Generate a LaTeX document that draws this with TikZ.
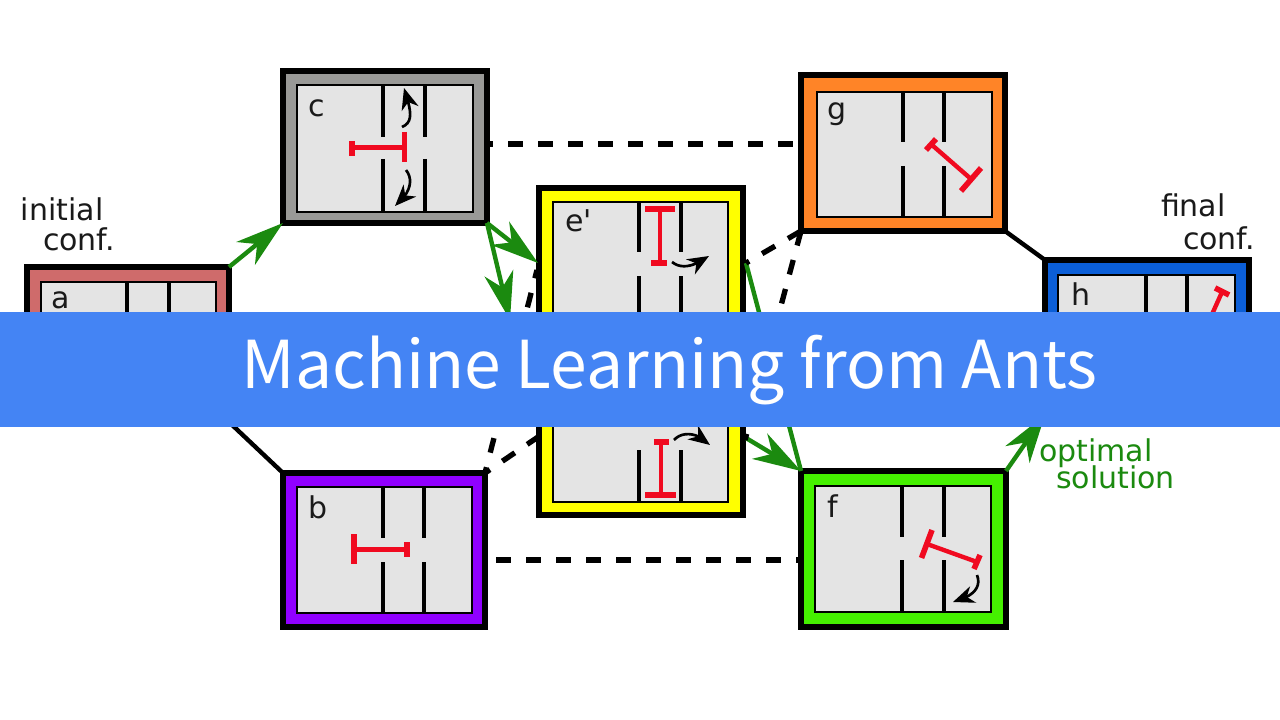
\documentclass[tikz,border=0pt]{standalone}
\usepackage{fontspec}
\newfontfamily\labfont{DejaVu Sans}
\newfontfamily\bannerfont{Noto Sans CJK SC}
\usetikzlibrary{arrows.meta,bending}
\definecolor{inbox}{HTML}{E4E4E4}
\definecolor{redbar}{HTML}{F00A20}
\definecolor{ggreen}{HTML}{1B8A0F}
\definecolor{banner}{HTML}{4484F4}
\definecolor{cgray}{HTML}{999997}
\definecolor{cred}{HTML}{CF6B6B}
\definecolor{cyellow}{HTML}{FFFF00}
\definecolor{corange}{HTML}{FF8427}
\definecolor{cblue}{HTML}{0B5ED7}
\definecolor{cpurple}{HTML}{9000FF}
\definecolor{cgreen}{HTML}{45F000}
\definecolor{labelink}{HTML}{1A1A1A}
\tikzset{
  x=0.75pt,y=-0.75pt,
  outerbox/.style={draw=black,line width=4.3pt,rectangle,inner sep=0pt,outer sep=0pt},
  innerbox/.style={draw=black,line width=2.2pt,fill=inbox,rectangle,inner sep=0pt,outer sep=0pt},
  wallline/.style={draw=black,line width=2.6pt},
  tstem/.style={draw=redbar,line width=3.3pt},
  tbar/.style={draw=redbar,line width=4.2pt},
  greenconn/.style={draw=ggreen,line width=3.3pt,-{Stealth[length=36pt,width=22pt,inset=11pt]}},
  greenplain/.style={draw=ggreen,line width=3.3pt},
  blackconn/.style={draw=black,line width=3.3pt},
  dashconn/.style={draw=black,line width=4pt,dash pattern=on 11.25pt off 11.25pt},
  moveconn/.style={draw=black,line width=2pt,-{Stealth[length=16pt,width=13pt,inset=5pt,flex=1]}},
  lab/.style={font=\labfont\fontsize{22.5}{26}\selectfont,anchor=base west,inner sep=0pt,outer sep=0pt,text=labelink},
  glab/.style={lab,text=ggreen},
}
\newcommand{\cfgbox}[6]{%
  \node[outerbox,fill=#2,minimum width={(#5-#3-4)*0.75pt},minimum height={(#6-#4-4)*0.75pt}]
    (#1) at ({(#3+#5)/2},{(#4+#6)/2}) {};}
\newcommand{\cfginner}[5]{%
  \node[innerbox,minimum width={(#4-#2)*0.75pt},minimum height={(#5-#3)*0.75pt}]
    (#1) at ({(#2+#4)/2},{(#3+#5)/2}) {};}
\newcommand{\walls}[6]{% x1 x2 ytop gaptop gapbot ybot
  \draw[wallline] (#1,#3)--(#1,#4) (#1,#5)--(#1,#6) (#2,#3)--(#2,#4) (#2,#5)--(#2,#6);}
\begin{document}
\begin{tikzpicture}
\useasboundingbox (0,0) rectangle (1280,720);
\fill[white] (0,0) rectangle (1280,720);

% boxes
\cfgbox{c}{cgray}{281}{69}{489}{225}
\cfginner{cin}{297}{85}{473}{212}
\walls{383}{425}{85}{137}{159}{212}

\cfgbox{a}{cred}{25}{265}{231}{424}
\cfginner{ain}{41}{282}{216}{410}
\walls{127}{169}{282}{330}{354}{410}

\cfgbox{b}{cpurple}{281}{471}{487}{629}
\cfginner{bin}{297}{487}{472}{613}
\walls{383}{424}{487}{538}{562}{613}

\cfgbox{e}{cyellow}{537}{186}{745}{517}
\cfginner{ein}{553}{202}{728}{502}
\walls{639}{681}{202}{252}{276}{426}
\walls{639}{681}{426}{427}{450}{502}

\cfgbox{g}{corange}{799}{73}{1007}{233}
\cfginner{gin}{817}{92}{992}{217}
\walls{903}{944}{92}{142}{166}{217}

\cfgbox{f}{cgreen}{799}{469}{1008}{629}
\cfginner{fin}{815}{486}{991}{612}
\walls{902}{944}{486}{537}{560}{612}

\cfgbox{h}{cblue}{1043}{258}{1251}{417}
\cfginner{hin}{1058}{275}{1235}{404}
\walls{1146}{1187}{275}{330}{354}{404}

% free ends
\coordinate (eleftA) at (538,263);
\coordinate (dhid) at (510,320);
\coordinate (erightA) at (746,263);
\coordinate (eleftB) at (538,437);
\coordinate (erightB) at (746,438);
\coordinate (eleftC) at (537,270);
\coordinate (erightC) at (745,440);

% connectors
\draw[greenconn] (a.north east) -- (c.south west);
\draw[greenconn] (c.south east) -- (eleftA);
\draw[greenconn] (c.south east) -- (dhid);
\draw[greenconn] (erightB) -- (f.north west);
\draw[greenplain] (erightA) -- (f.north west);
\draw[greenconn] (f.north east) -- (h.south west);
\draw[blackconn] (g.south east) -- (h.north west);
\draw[blackconn] (a.south east) -- (b.north west);
\draw[dashconn,dash phase=6.75pt] (c.east |- 0,144) -- (g.west |- 0,144);
\draw[dashconn,dash phase=14.25pt] (b.east |- 0,560) -- (f.west |- 0,560);
\draw[dashconn] (g.south west) -- (erightA);
\draw[dashconn] (g.south west) -- (erightC);
\draw[dashconn,dash phase=6.75pt] (b.north east) -- (eleftB);
\draw[dashconn,dash phase=6.75pt] (b.north east) -- (eleftC);

% red bars
\draw[tstem] (352,147.5)--(405,147.5);
\draw[tbar] (352,141)--(352,156);
\draw[tbar] (404.5,132)--(404.5,162);

\draw[tstem] (354,549.5)--(407,549.5);
\draw[tbar] (354,534)--(354,564);
\draw[tbar] (407,542)--(407,557);

\draw[tstem] (660,209)--(660,263);
\draw[tbar] (645,209)--(675,209);
\draw[tbar] (651,263)--(667,263);

\draw[tstem] (661,442)--(661,495);
\draw[tbar] (654,442)--(669,442);
\draw[tbar] (645,495)--(675.5,495);

\draw[tstem] (932,145)--(971,179);
\draw[tbar] (936,139)--(926,150);
\draw[tbar] (981,168)--(961,191);

\draw[tstem] (927,544)--(977,562);
\draw[tbar] (932,530)--(921.5,558);
\draw[tbar] (980,555)--(974,569);

\draw[tstem] (1222,292)--(1205,330);
\draw[tbar] (1215,288)--(1229,295);

% move arrows
\coordinate (m1a) at (402,127); \coordinate (m1b) at (404,88);
\draw[moveconn] (m1a) .. controls (414,122) and (411,110) .. (m1b);
\coordinate (m2a) at (406,170); \coordinate (m2b) at (395,206);
\draw[moveconn] (m2a) .. controls (414,180) and (410,194) .. (m2b);
\coordinate (m3a) at (672,262); \coordinate (m3b) at (709,256);
\draw[moveconn] (m3a) .. controls (682,270) and (695,266) .. (m3b);
\coordinate (m4a) at (674,440); \coordinate (m4b) at (710,445);
\draw[moveconn] (m4a) .. controls (682,431) and (698,432) .. (m4b);
\coordinate (m5a) at (977,575); \coordinate (m5b) at (953,602);
\draw[moveconn] (m5a) .. controls (982,588) and (972,597) .. (m5b);

% labels
\node[lab] (tinitial) at (21,220) {initial};
\node[lab] (tconfa) at (43,251) {conf.};
\node[lab] (tfinal) at (1161,217) {final};
\node[lab] (tconfb) at (1183,249) {conf.};
\node[glab] (topt) at (1039,461) {optimal};
\node[glab] (tsol) at (1056,488) {solution};
\node[lab] (la) at (51,308) {a};
\node[lab] (lb) at (308,518) {b};
\node[lab] (lc) at (308,117) {c};
\node[lab] (le) at (565,232) {e'};
\node[lab] (lf) at (827,517) {f};
\node[lab] (lg) at (827,120) {g};
\node[lab] (lh) at (1071,305) {h};

% banner
\fill[banner] (0,312) rectangle (1280,427);
\node[text=white,inner sep=0pt,anchor=base,font=\bannerfont\fontsize{49.5}{60}\selectfont] (title) at (669.5,388) {Machine Learning from Ants};
\end{tikzpicture}
\end{document}
